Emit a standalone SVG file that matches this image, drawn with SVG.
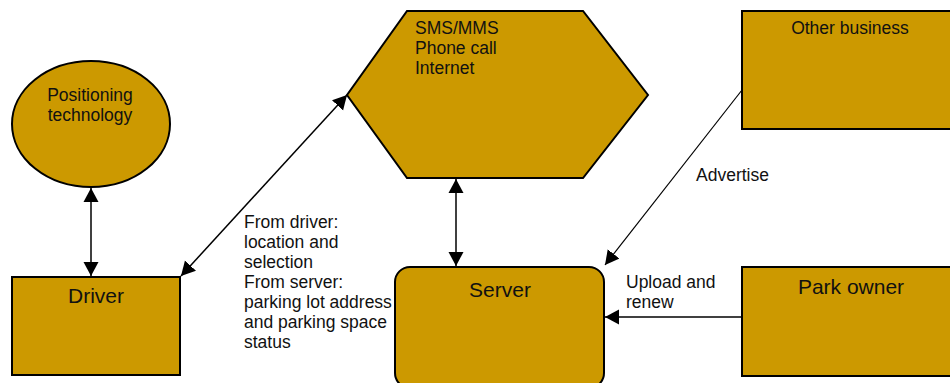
<svg xmlns="http://www.w3.org/2000/svg" width="950" height="383" viewBox="0 0 950 383">
<defs>
<style>
.node{fill:#CC9900;stroke:#000;stroke-width:2}
.t{font-family:"Liberation Sans",Arial,sans-serif;fill:#111}
.s14{font-size:17.5px}
.s18{font-size:21px}
.c{stroke:#000;stroke-width:1.5;fill:none}
.thin{stroke-width:1.2}
</style>
<marker id="ah" markerUnits="userSpaceOnUse" markerWidth="15" markerHeight="17" refX="14" refY="8" orient="auto-start-reverse" viewBox="0 0 15 17">
<path d="M0,0.5 L14,8 L0,15.5 z" fill="#000"/>
</marker>
</defs>
<rect width="950" height="383" fill="#fff"/>
<g id="positioning">
<ellipse class="node" cx="91" cy="124" rx="79" ry="63"/>
<text class="t s14" x="90" y="101" text-anchor="middle">Positioning</text>
<text class="t s14" x="90" y="121" text-anchor="middle">technology</text>
</g>
<g id="driver">
<rect class="node" x="12" y="277" width="168" height="98"/>
<text class="t s18" x="96" y="303" text-anchor="middle">Driver</text>
</g>
<g id="channels">
<polygon class="node" points="407,11 583,11 648,95 583,178 407,178 347,95"/>
<text class="t s14" x="415" y="34">SMS/MMS</text>
<text class="t s14" x="415" y="54">Phone call</text>
<text class="t s14" x="415" y="74">Internet</text>
</g>
<g id="server">
<rect class="node" x="395" y="267" width="209" height="121" rx="15" ry="15"/>
<text class="t s18" x="500" y="297" text-anchor="middle">Server</text>
</g>
<g id="other-business">
<rect class="node" x="742" y="11" width="216" height="118"/>
<text class="t s14" x="850" y="34" text-anchor="middle">Other business</text>
</g>
<g id="park-owner">
<rect class="node" x="742" y="267" width="216" height="109"/>
<text class="t s18" x="851" y="294" text-anchor="middle">Park owner</text>
</g>
<g id="connectors">
<line class="c" x1="91" y1="188" x2="91" y2="276" marker-start="url(#ah)" marker-end="url(#ah)"/>
<line class="c" x1="181" y1="276" x2="347" y2="95" marker-start="url(#ah)" marker-end="url(#ah)"/>
<line class="c" x1="456" y1="179" x2="456" y2="266" marker-start="url(#ah)" marker-end="url(#ah)"/>
<line class="c thin" x1="742" y1="90" x2="605" y2="265" marker-end="url(#ah)"/>
<line class="c" x1="742" y1="317" x2="605" y2="317" marker-end="url(#ah)"/>
<text class="t s14" x="244" y="228">From driver:</text>
<text class="t s14" x="244" y="248">location and</text>
<text class="t s14" x="244" y="268">selection</text>
<text class="t s14" x="244" y="288">From server:</text>
<text class="t s14" x="244" y="308">parking lot address</text>
<text class="t s14" x="244" y="328">and parking space</text>
<text class="t s14" x="244" y="348">status</text>
<text class="t s14" x="696" y="181">Advertise</text>
<text class="t s14" x="626" y="288">Upload and</text>
<text class="t s14" x="626" y="308">renew</text>
</g>
</svg>
